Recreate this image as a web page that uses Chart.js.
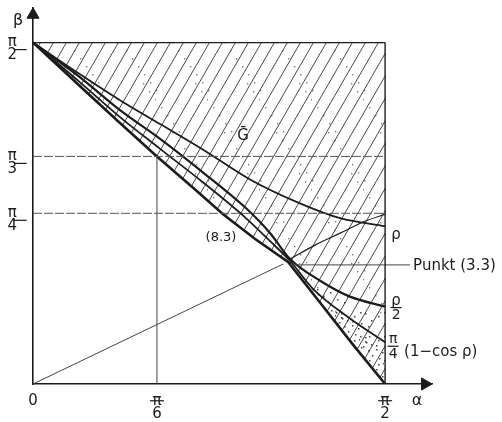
<!DOCTYPE html>
<html>
<head>
<meta charset="utf-8">
<script src="https://cdn.jsdelivr.net/npm/chart.js@4.4.1/dist/chart.umd.min.js"></script>
<style>
  html, body { margin: 0; padding: 0; background: #fff; }
  #chart { display: block; }
</style>
</head>
<body>
<canvas id="chart" width="502" height="422"></canvas>
<script>
const HALF_PI = Math.PI / 2;
const FONT = '"DejaVu Sans", sans-serif';
const INK = '#1c1c1c';

// ticks (radians) and their labels
const xTicks = [0, 0.553, HALF_PI];
const xTickLabels = ['0', ['π', '6'], ['π', '2']];
const yTicks = [Math.PI / 4, Math.PI / 3, HALF_PI];
const yTickLabels = [['π', '4'], ['π', '3'], ['π', '2']];

// curves, [alpha, beta]
const lowerEdge = [[0, 1.571], [0.210, 1.370], [0.388, 1.201], [0.553, 1.047], [0.723, 0.895], [0.848, 0.781],
  [0.991, 0.667], [1.138, 0.562], [1.281, 0.374], [1.423, 0.187], [1.571, 0]];
const rhoCurve = [[0, 1.571], [0.210, 1.425], [0.388, 1.306], [0.567, 1.196], [0.759, 1.078], [0.968, 0.941],
  [1.191, 0.831], [1.370, 0.763], [1.571, 0.726]];
const halfRhoCurve = [[0, 1.571], [0.210, 1.411], [0.388, 1.260], [0.567, 1.128], [0.759, 0.973], [0.946, 0.813],
  [1.058, 0.694], [1.147, 0.575], [1.281, 0.475], [1.414, 0.402], [1.571, 0.356]];
const cosCurve = [[0, 1.571], [0.210, 1.388], [0.388, 1.228], [0.567, 1.082], [0.759, 0.927], [0.946, 0.767],
  [1.058, 0.657], [1.147, 0.566], [1.249, 0.438], [1.414, 0.301], [1.571, 0.192]];
const risingCurve = [[1.147, 0.575], [1.258, 0.639], [1.370, 0.694], [1.481, 0.749], [1.571, 0.781]];
const originRay = [[0, 0], [1.116, 0.552]];
const punktLeader = [[1.147, 0.548], [1.682, 0.548]];
const piSixth = 0.553;

const xy = pts => pts.map(([x, y]) => ({ x, y }));

// fill patterns
function hatchPattern() {
  const c = document.createElement('canvas');
  c.width = 52; c.height = 90;
  const g = c.getContext('2d');
  g.strokeStyle = 'rgba(25,25,25,0.8)';
  g.lineWidth = 1;
  for (let k = -4; k <= 4; k++) {
    g.beginPath();
    g.moveTo(k * 13, 90);
    g.lineTo(k * 13 + 52, 0);
    g.stroke();
  }
  g.fillStyle = 'rgba(40,40,40,0.6)';
  for (let i = 0; i < 14; i++) g.fillRect((i * 23) % 52, (i * 41) % 90, 1.4, 1.4);
  return g.createPattern(c, 'repeat');
}
function stipplePattern(n) {
  const c = document.createElement('canvas');
  c.width = 24; c.height = 24;
  const g = c.getContext('2d');
  g.fillStyle = 'rgba(25,25,25,0.8)';
  for (let i = 0; i < n; i++) g.fillRect((i * 7 + (i * i) % 5) % 24, (i * 11 + (i * 3) % 7) % 24, 1.5, 1.5);
  return g.createPattern(c, 'repeat');
}

const upperRegion = [[0, HALF_PI], [HALF_PI, HALF_PI], ...lowerEdge.slice().reverse()];
const denseRegion = [...lowerEdge.filter(p => p[0] >= 1.13), ...cosCurve.filter(p => p[0] >= 1.14).reverse()];
const midRegion = [...cosCurve.filter(p => p[0] >= 1.14), ...halfRhoCurve.filter(p => p[0] >= 1.14).reverse()];

const area = (pts, bg) => ({ data: xy(pts), fill: 'shape', backgroundColor: bg, borderWidth: 0, order: 10 });
const curve = (pts, width, extra) => Object.assign({
  data: xy(pts), borderColor: INK, borderWidth: width, fill: false, order: 1
}, extra || {});

const datasets = [
  area(upperRegion, hatchPattern()),
  area(midRegion, stipplePattern(6)),
  area(denseRegion, stipplePattern(16)),
  curve([[0, HALF_PI], [HALF_PI, HALF_PI]], 1.3),
  curve([[HALF_PI, 0], [HALF_PI, HALF_PI]], 1.4),
  curve([[0, Math.PI / 3], [HALF_PI, Math.PI / 3]], 1, { borderColor: '#555', borderDash: [9, 2] }),
  curve([[0, Math.PI / 4], [HALF_PI, Math.PI / 4]], 1, { borderColor: '#555', borderDash: [9, 2] }),
  curve([[piSixth, 0], [piSixth, Math.PI / 3]], 1, { borderColor: '#444' }),
  curve(originRay, 1, { borderColor: '#444' }),
  curve(punktLeader, 1, { borderColor: '#444', clip: false }),
  curve(rhoCurve, 1.8, { cubicInterpolationMode: 'monotone' }),
  curve(halfRhoCurve, 2.2, { cubicInterpolationMode: 'monotone' }),
  curve(cosCurve, 1.8, { cubicInterpolationMode: 'monotone' }),
  curve(risingCurve, 1.2, { cubicInterpolationMode: 'monotone' }),
  curve(lowerEdge, 2.6),
  // arrow heads
  { data: [{ x: 1.749, y: 0 }], showLine: false, pointStyle: 'triangle', rotation: 90, pointRadius: 7,
    pointBackgroundColor: INK, pointBorderColor: INK, clip: false, order: 0 },
  { data: [{ x: 0, y: 1.699 }], showLine: false, pointStyle: 'triangle', rotation: 0, pointRadius: 7,
    pointBackgroundColor: INK, pointBorderColor: INK, clip: false, order: 0 }
];

const Y_PAD = 8, X_PAD = 3, TICK_SIZE = 15, TICK_LH = 0.85, Y_SHIFT = 6;

const figureText = {
  id: 'figureText',
  afterDraw(chart) {
    const { ctx, scales: { x, y } } = chart;
    const px = v => x.getPixelForValue(v);
    const py = v => y.getPixelForValue(v);
    ctx.save();
    ctx.fillStyle = INK;
    ctx.strokeStyle = INK;
    ctx.lineWidth = 1.2;
    const bar = (cx, cy, w) => { ctx.beginPath(); ctx.moveTo(cx - w / 2, cy); ctx.lineTo(cx + w / 2, cy); ctx.stroke(); };

    // fraction bars of the tick labels
    ctx.font = `${TICK_SIZE}px ${FONT}`;
    const widest = Math.max(ctx.measureText('π').width, ctx.measureText('4').width);
    const yc = y.right - Y_PAD - widest / 2;
    yTicks.forEach(v => bar(yc, py(v) + Y_SHIFT + 1, 13));
    xTicks.forEach((v, i) => {
      if (Array.isArray(xTickLabels[i])) bar(px(v), x.top + X_PAD + TICK_SIZE * TICK_LH + 1, 14);
    });

    ctx.textAlign = 'center';
    ctx.textBaseline = 'middle';
    ctx.font = `16px ${FONT}`;
    ctx.fillText('β', px(0) - 15, y.top + 13);
    ctx.fillText('α', px(HALF_PI) + 32, py(0) + 17);
    ctx.font = `15px ${FONT}`;
    ctx.fillText('Ḡ', 243, 136);
    ctx.font = `13px ${FONT}`;
    ctx.fillText('(8.3)', 221, 238);

    const right = px(HALF_PI);
    ctx.font = `15px ${FONT}`;
    ctx.fillText('ρ', right + 11, py(rhoCurve[rhoCurve.length - 1][1]) + 9);
    const hy = py(halfRhoCurve[halfRhoCurve.length - 1][1]);
    ctx.fillText('ρ', right + 11, hy - 6);
    bar(right + 11, hy + 1, 11);
    ctx.font = `14px ${FONT}`;
    ctx.fillText('2', right + 11, hy + 9);
    const cy = py(cosCurve[cosCurve.length - 1][1]) + 4;
    ctx.fillText('π', right + 8, cy - 7);
    bar(right + 8, cy, 11);
    ctx.fillText('4', right + 8, cy + 8);
    ctx.textAlign = 'left';
    ctx.font = `15px ${FONT}`;
    ctx.fillText('(1−cos ρ)', right + 19, cy + 6);
    ctx.fillText('Punkt (3.3)', right + 28, py(punktLeader[0][1]) + 1);
    ctx.restore();
  }
};

new Chart(document.getElementById('chart'), {
  type: 'line',
  data: { datasets },
  options: {
    responsive: false,
    animation: false,
    devicePixelRatio: 1,
    layout: { padding: { left: 0, right: 70, top: 5, bottom: 0 } },
    elements: { point: { radius: 0 }, line: { tension: 0 } },
    plugins: { legend: { display: false }, tooltip: { enabled: false } },
    scales: {
      x: {
        type: 'linear', min: 0, max: 1.78,
        grid: { display: false },
        border: { display: true, color: INK, width: 1.6 },
        afterBuildTicks: s => { s.ticks = xTicks.map(v => ({ value: v })); },
        afterFit: s => { s.height = 38; s.paddingLeft = 0; s.paddingRight = 0; },
        ticks: {
          autoSkip: false, maxRotation: 0, padding: X_PAD, color: INK,
          font: { family: FONT, size: TICK_SIZE, lineHeight: TICK_LH },
          callback: (v, i) => xTickLabels[i]
        }
      },
      y: {
        type: 'linear', min: 0, max: 1.73,
        grid: { display: false },
        border: { display: true, color: INK, width: 1.6 },
        afterBuildTicks: s => { s.ticks = yTicks.map(v => ({ value: v })); },
        afterFit: s => { s.width = 33; s.paddingTop = 0; s.paddingBottom = 0; },
        ticks: {
          autoSkip: false, padding: Y_PAD, color: INK, crossAlign: 'center', labelOffset: Y_SHIFT,
          font: { family: FONT, size: TICK_SIZE, lineHeight: TICK_LH },
          callback: (v, i) => yTickLabels[i]
        }
      }
    }
  },
  plugins: [figureText]
});
</script>
</body>
</html>
